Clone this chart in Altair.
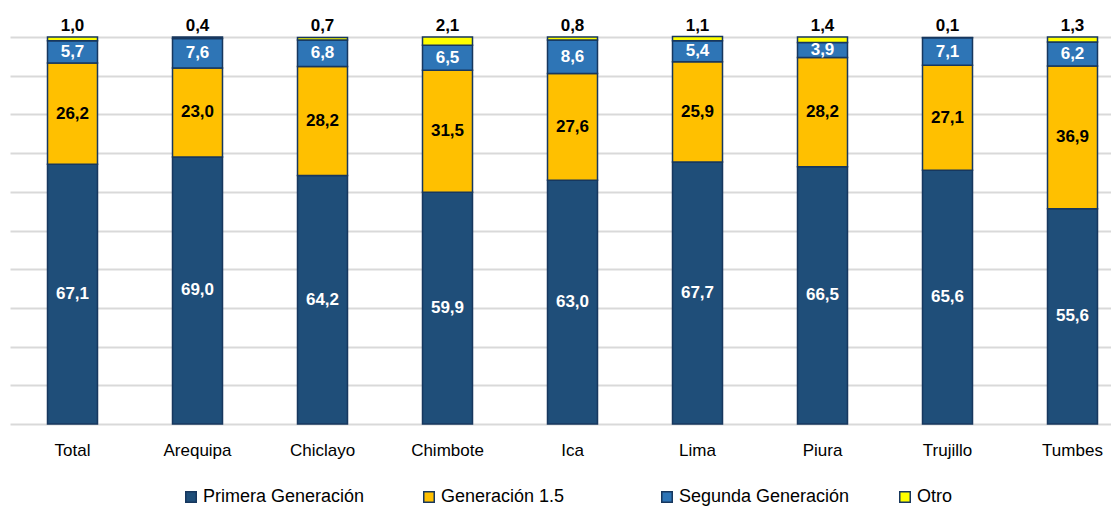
import altair as alt
import pandas as pd

cities = ["Total", "Arequipa", "Chiclayo", "Chimbote", "Ica", "Lima", "Piura", "Trujillo", "Tumbes"]
primera = [67.1, 69.0, 64.2, 59.9, 63.0, 67.7, 66.5, 65.6, 55.6]
gen15 = [26.2, 23.0, 28.2, 31.5, 27.6, 25.9, 28.2, 27.1, 36.9]
segunda = [5.7, 7.6, 6.8, 6.5, 8.6, 5.4, 3.9, 7.1, 6.2]
otro = [1.0, 0.4, 0.7, 2.1, 0.8, 1.1, 1.4, 0.1, 1.3]
series = ["Primera Generación", "Generación 1.5", "Segunda Generación", "Otro"]
colors = ["#1F4E79", "#FFC000", "#2E75B6", "#FFFF00"]
grid_values = [0, 10, 20, 30, 40, 50, 60, 70, 80, 90, 100]

rows = []
for i, c in enumerate(cities):
    for k, (s, vals) in enumerate(zip(series, [primera, gen15, segunda, otro])):
        rows.append(dict(city=c, serie=s, value=vals[i], order=k,
                         label=f"{vals[i]:.1f}".replace(".", ",")))
df = pd.DataFrame(rows)

FONT = "Liberation Sans"

base = alt.Chart(df).transform_stack(
    stack="value", groupby=["city"], as_=["y0", "y1"], sort=[alt.SortField("order")]
).transform_calculate(mid="(datum.y0 + datum.y1) / 2")

xaxis = alt.Axis(labelAngle=0, labelFontSize=17, labelFont=FONT, labelColor="#000000",
                 labelPadding=18, ticks=False, domain=False, grid=False)
x = alt.X("city:N", sort=cities, title=None,
          scale=alt.Scale(range=[0, 1125], paddingInner=0.6, paddingOuter=0.3),
          axis=xaxis)
yscale = alt.Scale(domain=[0, 100], nice=False)
yaxis = alt.Axis(labels=False, ticks=False, domain=False, grid=True, title=None,
                 values=grid_values, labelOverlap=False,
                 gridColor="#D9D9D9", gridWidth=2)

bars = base.mark_bar(stroke="#17375E", strokeWidth=1.5).encode(
    x=x,
    y=alt.Y("y0:Q", scale=yscale, title=None, axis=yaxis),
    y2="y1:Q",
    color=alt.Color("serie:N", sort=series,
                    scale=alt.Scale(domain=series, range=colors),
                    legend=alt.Legend(title=None, orient="none", legendX=172, legendY=451,
                                      direction="horizontal", columns=4, gridAlign="all",
                                      columnPadding=46, symbolType="square", symbolSize=110,
                                      symbolStrokeColor="#17375E", symbolStrokeWidth=1.5,
                                      labelFontSize=18, labelFont=FONT, labelColor="#000000",
                                      labelLimit=300, labelOffset=3)),
    order=alt.Order("order:Q"),
)

inner = base.transform_filter("datum.serie != 'Otro'").mark_text(
    fontSize=17, fontWeight="bold", font=FONT
).encode(
    x=alt.X("city:N", sort=cities, title=None, axis=xaxis),
    y=alt.Y("mid:Q", scale=yscale, title=None, axis=yaxis),
    text="label:N",
    color=alt.condition("datum.serie == 'Generación 1.5'", alt.value("#000000"), alt.value("#FFFFFF")),
)

top = base.transform_filter("datum.serie == 'Otro'").mark_text(
    fontSize=17, fontWeight="bold", font=FONT, dy=-11, color="#000000"
).encode(
    x=alt.X("city:N", sort=cities, title=None, axis=xaxis),
    y=alt.Y("y1:Q", scale=yscale, title=None, axis=yaxis),
    text="label:N",
)

chart = alt.layer(bars, inner, top).properties(
    width=1101, height=387,
    autosize=alt.AutoSizeParams(type="none"),
    padding={"left": 2, "top": 29, "right": 0, "bottom": 88},
).configure_view(stroke=None)

chart.save("out.html", embed_options={"renderer": "svg", "actions": False})
